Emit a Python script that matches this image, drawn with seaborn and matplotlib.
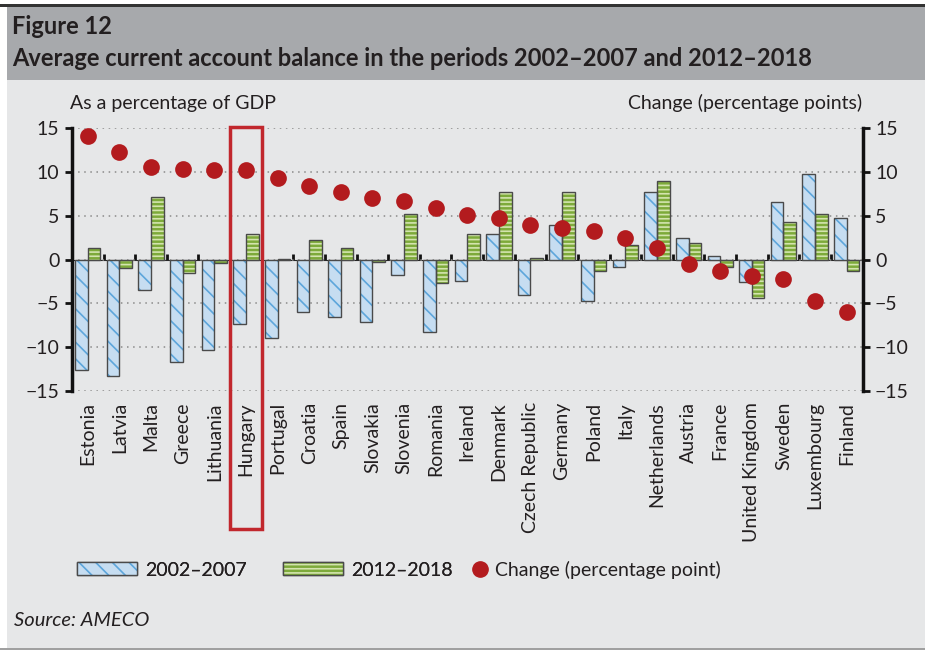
import numpy as np
import pandas as pd
import matplotlib.pyplot as plt
import seaborn as sns
from matplotlib.patches import Rectangle, Patch
from matplotlib.lines import Line2D
from matplotlib.legend_handler import HandlerTuple
import matplotlib.transforms as mtransforms

# Data
countries = ['Estonia', 'Latvia', 'Malta', 'Greece', 'Lithuania', 'Hungary', 'Portugal',
             'Croatia', 'Spain', 'Slovakia', 'Slovenia', 'Romania', 'Ireland', 'Denmark',
             'Czech Republic', 'Germany', 'Poland', 'Italy', 'Netherlands', 'Austria',
             'France', 'United Kingdom', 'Sweden', 'Luxembourg', 'Finland']
period_2002_2007 = [-12.6, -13.3, -3.5, -11.7, -10.3, -7.4, -9.0, -6.0, -6.5, -7.1, -1.7,
                    -8.3, -2.4, 2.9, -4.0, 4.0, -4.7, -0.8, 7.7, 2.5, 0.4, -2.6, 6.6, 9.8, 4.7]
period_2012_2018 = [1.3, -1.0, 7.2, -1.5, -0.4, 2.9, 0.1, 2.2, 1.3, -0.3, 5.2, -2.7, 2.9,
                    7.7, 0.15, 7.7, -1.3, 1.7, 9.0, 1.9, -0.8, -4.4, 4.3, 5.2, -1.3]
change_pp = [14.1, 12.3, 10.6, 10.4, 10.2, 10.2, 9.3, 8.4, 7.7, 7.0, 6.7, 5.9, 5.1, 4.7,
             4.0, 3.6, 3.3, 2.5, 1.3, -0.5, -1.25, -1.9, -2.2, -4.7, -6.0]
periods = ['2002–2007', '2012–2018']
highlight = 'Hungary'
y_ticks = [-15, -10, -5, 0, 5, 10, 15]

BLUE_FILL, BLUE_HATCH = '#C6DDF1', '#5DA6DB'
GREEN_FILL, GREEN_HATCH = '#7DAA3A', '#D3E4AE'
RED = '#B31B1E'
PANEL = '#E6E7E8'
HEADER = '#A7A9AC'
TXT = '#231F20'
FS = 14

sns.set_style('white')
plt.rcParams['font.family'] = ['Lato', 'DejaVu Sans']
plt.rcParams['hatch.linewidth'] = 1.2

df = pd.DataFrame({
    'country': countries * 2,
    'period': [periods[0]] * len(countries) + [periods[1]] * len(countries),
    'value': period_2002_2007 + period_2012_2018,
})
chg = pd.DataFrame({'country': countries, 'change': change_pp})

fig = plt.figure(figsize=(9.25, 6.5), dpi=100)
fig.patch.set_facecolor('white')

# background panels
fig.add_artist(Rectangle((7 / 925, 0.003), 1, 1 - 80 / 650, transform=fig.transFigure,
                         facecolor=PANEL, edgecolor='none', zorder=-10))
fig.add_artist(Rectangle((0, 0), 1, 0.003, transform=fig.transFigure,
                         facecolor='#A0A0A0', edgecolor='none', zorder=-9))
fig.add_artist(Rectangle((7 / 925, 1 - 80 / 650), 1, 73 / 650, transform=fig.transFigure,
                         facecolor=HEADER, edgecolor='none', zorder=-10))
fig.add_artist(Rectangle((0, 1 - 7 / 650), 1, 3 / 650, transform=fig.transFigure,
                         facecolor='#333333', edgecolor='none', zorder=-9))

fig.text(12 / 925, 1 - 26 / 650, 'Figure 12', fontsize=17, fontweight='bold',
         color=TXT, va='center')
fig.text(12 / 925, 1 - 58 / 650,
         'Average current account balance in the periods 2002–2007 and 2012–2018',
         fontsize=17, fontweight='bold', color=TXT, va='center')

ax = fig.add_axes([72 / 925, 1 - 391 / 650, (862.5 - 72) / 925, (391 - 128.3) / 650])
ax.set_facecolor('none')

sns.barplot(data=df, x='country', y='value', hue='period', order=countries,
            hue_order=periods, palette=[BLUE_FILL, GREEN_FILL], width=0.8,
            legend=False, ax=ax, zorder=3)

# hatch + outline on each bar
for cont, fill, hcol, hatch in zip(ax.containers, [BLUE_FILL, GREEN_FILL],
                                   [BLUE_HATCH, GREEN_HATCH], ['\\\\', '----']):
    for p in cont:
        p.set_facecolor(fill)
        p.set_edgecolor(hcol)
        p.set_hatch(hatch)
        p.set_linewidth(0)
        ax.add_patch(Rectangle(p.get_xy(), p.get_width(), p.get_height(), fill=False,
                               edgecolor='#4A4A4A', linewidth=1.0, zorder=4))

sns.pointplot(data=chg, x='country', y='change', order=countries, color=RED,
              linestyle='none', markers='o', markersize=10, errorbar=None, ax=ax, zorder=6)
for c in ax.collections:
    c.set_zorder(6)
for ln in ax.lines:
    ln.set_zorder(6)

ax.set_xlim(-0.5, len(countries) - 0.5)
ax.set_ylim(-15, 15)
ax.set_yticks(y_ticks)
ax.set_yticklabels([str(t).replace('-', '−') for t in y_ticks])
ax.set_xlabel('')
ax.set_ylabel('')
ax.yaxis.grid(True, linestyle=(0, (1, 3)), color='#8A8A8A', linewidth=1.1)
ax.set_axisbelow(True)
for s in ['top', 'bottom', 'right']:
    ax.spines[s].set_visible(False)
ax.spines['left'].set_linewidth(2.5)
ax.spines['left'].set_color('#111111')
ax.tick_params(axis='y', direction='out', length=5, width=2, color='#111111',
               labelsize=FS, labelcolor=TXT, pad=4)
ax.tick_params(axis='x', length=0, labelsize=FS, labelcolor=TXT, pad=8)
plt.setp(ax.get_xticklabels(), rotation=90)

# zero line with category boundary ticks
zero_ax = ax.secondary_xaxis(0.5)
zero_ax.set_xticks(np.arange(len(countries) + 1) - 0.5)
zero_ax.set_xticklabels([])
zero_ax.tick_params(direction='out', length=4, width=2, color='#111111')
zero_ax.spines['bottom'].set_linewidth(2.5)
zero_ax.spines['bottom'].set_color('#111111')
zero_ax.spines['bottom'].set_zorder(5)

ax2 = ax.twinx()
ax2.set_ylim(-15, 15)
ax2.set_yticks(y_ticks)
ax2.set_yticklabels([str(t).replace('-', '−') for t in y_ticks])
for s in ['top', 'bottom', 'left']:
    ax2.spines[s].set_visible(False)
ax2.spines['right'].set_linewidth(2.5)
ax2.spines['right'].set_color('#111111')
ax2.tick_params(axis='y', direction='out', length=5, width=2, color='#111111',
                labelsize=FS, labelcolor=TXT, pad=4)

fig.text(70 / 925, 1 - 103 / 650, 'As a percentage of GDP', fontsize=FS,
         color=TXT, va='center')
fig.text(862 / 925, 1 - 103 / 650, 'Change (percentage points)', fontsize=FS,
         color=TXT, va='center', ha='right')

# red frame around the highlighted country
hi = countries.index(highlight)
trans = mtransforms.blended_transform_factory(ax.transData, fig.transFigure)
fig.add_artist(Rectangle((hi - 0.5, 1 - 529 / 650), 1.0, (529 - 127) / 650, transform=trans,
                         fill=False, edgecolor='#C1272D', linewidth=2.5, clip_on=False,
                         zorder=10))

# legend
outline = Patch(facecolor='none', edgecolor='#4A4A4A', linewidth=1.0)
h_blue = (Patch(facecolor=BLUE_FILL, edgecolor=BLUE_HATCH, hatch='\\\\', linewidth=0), outline)
h_green = (Patch(facecolor=GREEN_FILL, edgecolor=GREEN_HATCH, hatch='----', linewidth=0),
           outline)
leg1 = fig.legend([h_blue, h_green], periods, handler_map={tuple: HandlerTuple(ndivide=1)},
                  loc='center left', bbox_to_anchor=(77 / 925, 1 - 570 / 650), ncol=2,
                  frameon=False, fontsize=FS, handlelength=3.1, handleheight=0.62,
                  handletextpad=0.4, columnspacing=1.85, borderpad=0, borderaxespad=0,
                  labelcolor=TXT)
fig.legend([Line2D([], [], linestyle='none', marker='o', markersize=11, color=RED)],
           ['Change (percentage point)'], loc='center left',
           bbox_to_anchor=(470 / 925, 1 - 570 / 650), frameon=False, fontsize=FS,
           handlelength=1.0, handletextpad=0.3, borderpad=0, borderaxespad=0,
           labelcolor=TXT)
fig.add_artist(leg1)

fig.text(14 / 925, 1 - 621 / 650, 'Source: AMECO', fontsize=14.5, fontstyle='italic',
         color=TXT, va='center')

fig.savefig('out.png', dpi=100, facecolor=fig.get_facecolor())
